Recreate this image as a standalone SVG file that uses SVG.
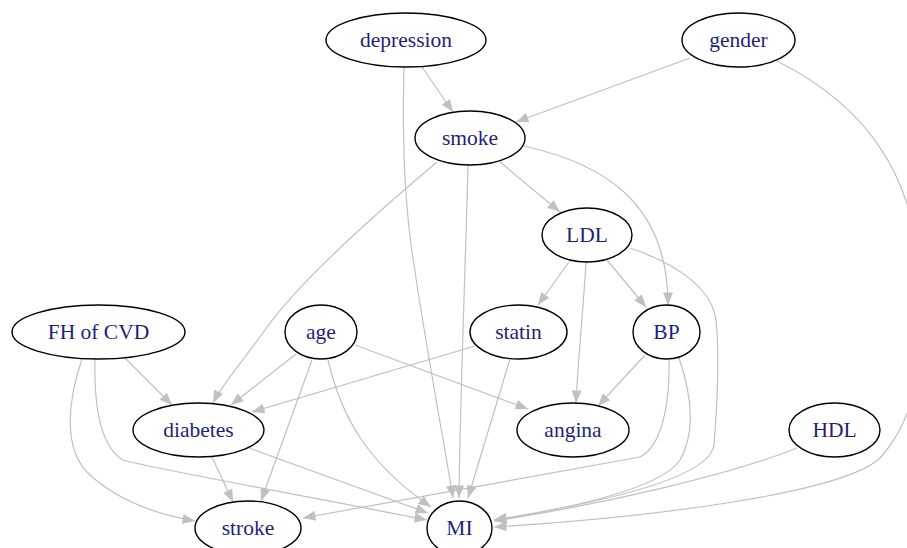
<svg xmlns="http://www.w3.org/2000/svg" width="907" height="548" viewBox="0 0 907 548">
<style>
.n ellipse{fill:#fff;stroke:#000;stroke-width:1.4}
.n text{font-family:"Liberation Serif","Times New Roman",serif;font-size:21.5px;fill:#1f1f7a;text-anchor:middle}
.e path{fill:none;stroke:#c0c0c0;stroke-width:1.2;marker-end:url(#ah)}
</style>
<defs>
<marker id="ah" viewBox="0 0 10 8" markerWidth="13" markerHeight="10" refX="10" refY="4" orient="auto" markerUnits="userSpaceOnUse">
<path d="M0,0 L10,4 L0,8 Z" fill="#c0c0c0"/>
</marker>
</defs>
<rect width="907" height="548" fill="#fff"/>
<g id="edges" class="e">
<path d="M422,67 L453,112"/>
<path d="M404,67 C402,140 405,210 414,265 C425,340 440,420 453,498"/>
<path d="M468,165 C466,250 460,400 459,498"/>
<path d="M437,162 C380,210 300,280 265,330 C240,365 222,385 213,403"/>
<path d="M500,162 L560,212"/>
<path d="M524,146 C600,163 668,200 668,305"/>
<path d="M690,58 L516,122"/>
<path d="M777,61 C865,105 918,175 921,290 C923,395 905,430 880,458 C840,495 640,518 494,527"/>
<path d="M569,262 L538,305"/>
<path d="M586,262 C584,300 578,360 576,403"/>
<path d="M607,260 L646,307"/>
<path d="M630,248 C680,265 712,290 716,320 C720,360 716,420 714,445 C710,475 620,500 494,520"/>
<path d="M125,358 L172,405"/>
<path d="M82,359 C68,400 62,450 90,475 C120,502 160,515 195,521"/>
<path d="M95,359 C94,400 98,445 123,460 C140,466 300,495 427,520"/>
<path d="M296,354 L231,405"/>
<path d="M312,360 L261,501"/>
<path d="M355,345 L528,409"/>
<path d="M328,360 C342,420 370,465 431,507"/>
<path d="M475,346 L252,412"/>
<path d="M510,359 L468,498"/>
<path d="M645,355 L598,406"/>
<path d="M669,360 C670,410 660,447 640,457 L303,518"/>
<path d="M679,358 C690,390 697,430 680,460 C660,490 560,510 494,520"/>
<path d="M797,448 C730,475 600,505 494,521"/>
<path d="M212,457 L233,502"/>
<path d="M249,448 L428,513"/>
</g>
<g id="depression" class="n"><ellipse cx="406" cy="40" rx="80" ry="27"/><text x="406" y="47">depression</text></g>
<g id="gender" class="n"><ellipse cx="738.5" cy="40" rx="56.5" ry="27"/><text x="738.5" y="47">gender</text></g>
<g id="smoke" class="n"><ellipse cx="470" cy="138" rx="55" ry="27"/><text x="470" y="145">smoke</text></g>
<g id="LDL" class="n"><ellipse cx="587" cy="235" rx="45" ry="27"/><text x="587" y="242">LDL</text></g>
<g id="FHofCVD" class="n"><ellipse cx="98.5" cy="332" rx="86.5" ry="27"/><text x="98.5" y="339">FH of CVD</text></g>
<g id="age" class="n"><ellipse cx="321" cy="332" rx="36" ry="27"/><text x="321" y="339">age</text></g>
<g id="statin" class="n"><ellipse cx="518.5" cy="332" rx="48.5" ry="27"/><text x="518.5" y="339">statin</text></g>
<g id="BP" class="n"><ellipse cx="666.5" cy="332" rx="33.5" ry="27"/><text x="666.5" y="339">BP</text></g>
<g id="diabetes" class="n"><ellipse cx="198.5" cy="430" rx="65.5" ry="27"/><text x="198.5" y="437">diabetes</text></g>
<g id="angina" class="n"><ellipse cx="573" cy="430" rx="56" ry="27"/><text x="573" y="437">angina</text></g>
<g id="HDL" class="n"><ellipse cx="834.5" cy="430" rx="45.5" ry="27"/><text x="834.5" y="437">HDL</text></g>
<g id="stroke" class="n"><ellipse cx="248" cy="528" rx="53" ry="27"/><text x="248" y="535">stroke</text></g>
<g id="MI" class="n"><ellipse cx="459.5" cy="528" rx="32.5" ry="27"/><text x="459.5" y="535">MI</text></g>
</svg>
